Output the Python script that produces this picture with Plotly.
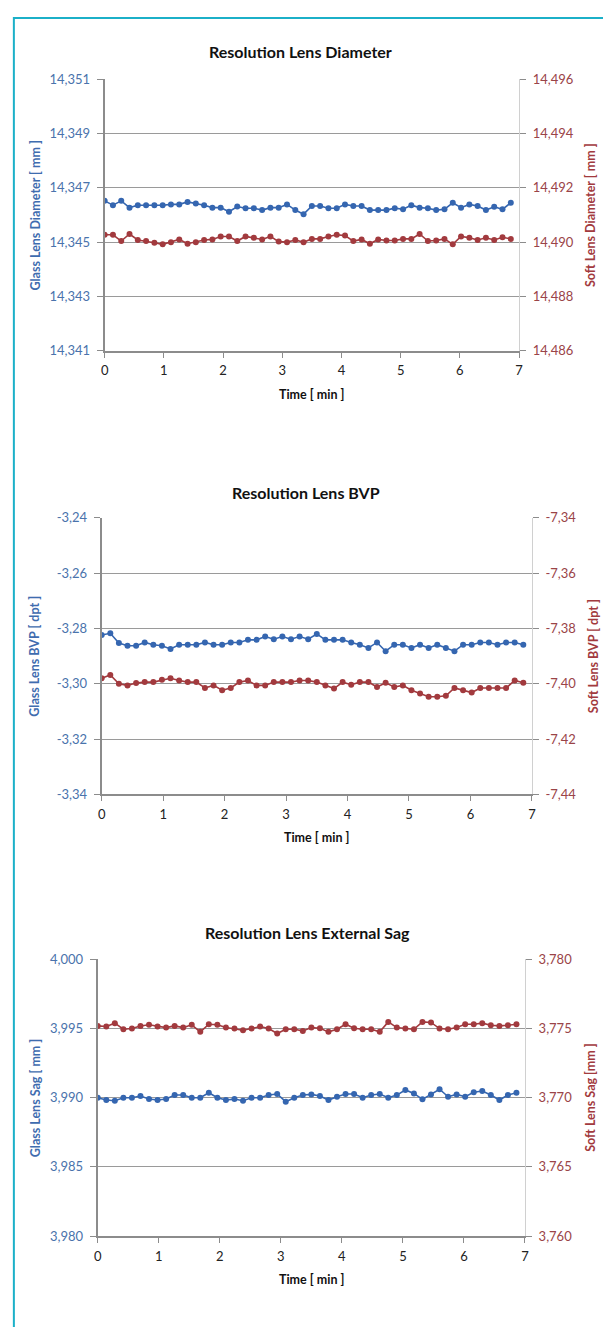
import plotly.graph_objects as go

W, H = 603, 1327

# ---------------- data ----------------
TIME_MIN = [0.00, 0.14, 0.28, 0.42, 0.56, 0.70, 0.84, 0.98, 1.12, 1.26,
            1.40, 1.54, 1.68, 1.82, 1.96, 2.10, 2.24, 2.38, 2.52, 2.66,
            2.80, 2.94, 3.08, 3.22, 3.36, 3.50, 3.64, 3.78, 3.92, 4.06,
            4.20, 4.34, 4.48, 4.62, 4.76, 4.90, 5.04, 5.18, 5.32, 5.46,
            5.60, 5.74, 5.88, 6.02, 6.16, 6.30, 6.44, 6.58, 6.72, 6.86]

DIAM_GLASS = [14.34652, 14.34636, 14.34652, 14.34627, 14.34636, 14.34636, 14.34636, 14.34636, 14.34639, 14.34639,
              14.34648, 14.34642, 14.34636, 14.34627, 14.34627, 14.34612, 14.34631, 14.34625, 14.34625, 14.34618,
              14.34627, 14.34627, 14.34639, 14.34618, 14.34603, 14.34633, 14.34633, 14.34625, 14.34625, 14.34639,
              14.34633, 14.34633, 14.34618, 14.34618, 14.34618, 14.34625, 14.34621, 14.34636, 14.34627, 14.34625,
              14.34618, 14.34621, 14.34645, 14.34627, 14.34639, 14.34633, 14.34618, 14.34630, 14.34621, 14.34645]
DIAM_SOFT = [14.49027, 14.49027, 14.49004, 14.49030, 14.49008, 14.49004, 14.48998, 14.48992, 14.49000, 14.49010,
             14.48994, 14.49000, 14.49008, 14.49010, 14.49021, 14.49021, 14.49004, 14.49021, 14.49016, 14.49010,
             14.49021, 14.49002, 14.49000, 14.49008, 14.49000, 14.49012, 14.49012, 14.49021, 14.49027, 14.49024,
             14.49004, 14.49010, 14.48994, 14.49010, 14.49006, 14.49006, 14.49012, 14.49012, 14.49030, 14.49004,
             14.49006, 14.49012, 14.48992, 14.49021, 14.49016, 14.49008, 14.49016, 14.49008, 14.49018, 14.49012]

BVP_GLASS = [-3.28235, -3.28176, -3.28529, -3.28624, -3.28624, -3.28506, -3.28588, -3.28624, -3.28741, -3.28588,
             -3.28588, -3.28588, -3.28506, -3.28588, -3.28588, -3.28506, -3.28506, -3.28412, -3.28412, -3.28294,
             -3.28388, -3.28294, -3.28388, -3.28294, -3.28388, -3.28200, -3.28412, -3.28412, -3.28412, -3.28506,
             -3.28588, -3.28706, -3.28506, -3.28824, -3.28588, -3.28588, -3.28706, -3.28588, -3.28706, -3.28588,
             -3.28706, -3.28824, -3.28588, -3.28588, -3.28506, -3.28506, -3.28588, -3.28506, -3.28506, -3.28588]
BVP_SOFT = [-7.39800, -7.39682, -7.40000, -7.40059, -7.39976, -7.39941, -7.39941, -7.39859, -7.39800, -7.39882,
            -7.39941, -7.39941, -7.40153, -7.40059, -7.40235, -7.40153, -7.39941, -7.39882, -7.40059, -7.40059,
            -7.39941, -7.39941, -7.39941, -7.39882, -7.39882, -7.39941, -7.40059, -7.40176, -7.39941, -7.40035,
            -7.39941, -7.39941, -7.40118, -7.39965, -7.40118, -7.40059, -7.40235, -7.40353, -7.40471, -7.40471,
            -7.40435, -7.40153, -7.40235, -7.40318, -7.40153, -7.40153, -7.40153, -7.40153, -7.39882, -7.39965]

SAG_GLASS = [3.99000, 3.98983, 3.98978, 3.99000, 3.99000, 3.99012, 3.98990, 3.98983, 3.98990, 3.99019,
             3.99019, 3.99000, 3.99000, 3.99036, 3.99000, 3.98983, 3.98990, 3.98978, 3.99000, 3.99000,
             3.99019, 3.99027, 3.98971, 3.99000, 3.99019, 3.99024, 3.99012, 3.98983, 3.99007, 3.99027,
             3.99027, 3.99000, 3.99019, 3.99027, 3.99000, 3.99019, 3.99056, 3.99031, 3.98988, 3.99024,
             3.99061, 3.99007, 3.99024, 3.99007, 3.99039, 3.99048, 3.99019, 3.98983, 3.99019, 3.99036]
SAG_SOFT = [3.77519, 3.77515, 3.77539, 3.77495, 3.77500, 3.77519, 3.77527, 3.77515, 3.77507, 3.77519,
            3.77507, 3.77527, 3.77476, 3.77531, 3.77527, 3.77507, 3.77500, 3.77488, 3.77500, 3.77515,
            3.77500, 3.77464, 3.77495, 3.77495, 3.77483, 3.77507, 3.77502, 3.77476, 3.77495, 3.77531,
            3.77502, 3.77495, 3.77495, 3.77476, 3.77548, 3.77507, 3.77500, 3.77495, 3.77548, 3.77544,
            3.77500, 3.77495, 3.77507, 3.77531, 3.77531, 3.77539, 3.77524, 3.77519, 3.77524, 3.77531]

TITLES = ["Resolution Lens Diameter", "Resolution Lens BVP", "Resolution Lens External Sag"]
LEFT_TITLES = ["Glass Lens Diameter [ mm ]", "Glass Lens BVP [ dpt ]", "Glass Lens Sag [ mm ]"]
RIGHT_TITLES = ["Soft Lens Diameter [ mm ]", "Soft Lens BVP [ dpt ]", "Soft Lens Sag [mm ]"]
X_TITLE = "Time [ min ]"

X_TICKS = [0, 1, 2, 3, 4, 5, 6, 7]
X_TICK_TEXT = ["0", "1", "2", "3", "4", "5", "6", "7"]

DIAM_L_TICKS = [14.341, 14.343, 14.345, 14.347, 14.349, 14.351]
DIAM_L_TEXT = ["14,341", "14,343", "14,345", "14,347", "14,349", "14,351"]
DIAM_R_TICKS = [14.486, 14.488, 14.490, 14.492, 14.494, 14.496]
DIAM_R_TEXT = ["14,486", "14,488", "14,490", "14,492", "14,494", "14,496"]
BVP_L_TICKS = [-3.34, -3.32, -3.30, -3.28, -3.26, -3.24]
BVP_L_TEXT = ["-3,34", "-3,32", "-3,30", "-3,28", "-3,26", "-3,24"]
BVP_R_TICKS = [-7.44, -7.42, -7.40, -7.38, -7.36, -7.34]
BVP_R_TEXT = ["-7,44", "-7,42", "-7,40", "-7,38", "-7,36", "-7,34"]
SAG_L_TICKS = [3.980, 3.985, 3.990, 3.995, 4.000]
SAG_L_TEXT = ["3,980", "3,985", "3,990", "3,995", "4,000"]
SAG_R_TICKS = [3.760, 3.765, 3.770, 3.775, 3.780]
SAG_R_TEXT = ["3,760", "3,765", "3,770", "3,775", "3,780"]

LEFT_TICKS = [(DIAM_L_TICKS, DIAM_L_TEXT), (BVP_L_TICKS, BVP_L_TEXT), (SAG_L_TICKS, SAG_L_TEXT)]
RIGHT_TICKS = [(DIAM_R_TICKS, DIAM_R_TEXT), (BVP_R_TICKS, BVP_R_TEXT), (SAG_R_TICKS, SAG_R_TEXT)]
GLASS = [DIAM_GLASS, BVP_GLASS, SAG_GLASS]
SOFT = [DIAM_SOFT, BVP_SOFT, SAG_SOFT]

# ---------------- layout geometry (pixels) ----------------
PLOTS = [  # x0, x1, ytop, ybottom
    (102, 522, 72, 347),
    (99, 535, 516, 796),
    (95, 528, 963, 1243),
]
TITLE_POS = [(300, 44), (306, 490), (308, 936)]
LEFT_TITLE_X = [32, 30, 32]
RIGHT_TITLE_X = [595, 597, 595]

BLUE = "#3566B0"
RED = "#A23A3E"
BLUE_TXT = "#4A73AC"
RED_TXT = "#9A4448"
AXIS = "#8C8C8C"
GRID = "#9A9A9A"
FONT = "Lato"


def px(x):
    return x / W


def py(y):
    return 1 - y / H


fig = go.Figure()
layout = dict(
    width=W, height=H, margin=dict(l=0, r=0, t=0, b=0),
    paper_bgcolor="white", plot_bgcolor="white", showlegend=False,
    font=dict(family=FONT, size=13, color="#222"),
)
annotations = []

for i in range(3):
    n = i + 1
    xa = "x" if n == 1 else f"x{n}"
    yl_idx = 2 * i + 1
    yr_idx = 2 * i + 2
    yl = "y" if yl_idx == 1 else f"y{yl_idx}"
    yr = f"y{yr_idx}"
    x0, x1, yt, yb = PLOTS[i]

    fig.add_trace(go.Scatter(
        x=TIME_MIN, y=GLASS[i], xaxis=xa, yaxis=yl, mode="lines+markers",
        line=dict(color=BLUE, width=1.6), marker=dict(color=BLUE, size=6),
        hoverinfo="skip"))
    fig.add_trace(go.Scatter(
        x=TIME_MIN, y=SOFT[i], xaxis=xa, yaxis=yr, mode="lines+markers",
        line=dict(color=RED, width=1.6), marker=dict(color=RED, size=6),
        hoverinfo="skip"))

    xkey = "xaxis" if n == 1 else f"xaxis{n}"
    ylkey = "yaxis" if yl_idx == 1 else f"yaxis{yl_idx}"
    yrkey = f"yaxis{yr_idx}"

    layout[xkey] = dict(
        domain=[px(x0), px(x1)], anchor=yl, range=[0, 7],
        tickmode="array", tickvals=X_TICKS, ticktext=X_TICK_TEXT,
        showgrid=False, zeroline=False, showline=True, linecolor=AXIS, linewidth=2,
        ticks="outside", ticklen=5, tickcolor=AXIS, tickwidth=1, ticklabelstandoff=2,
        tickfont=dict(family=FONT, size=13, color="#222"),
    )
    lt, ltxt = LEFT_TICKS[i]
    layout[ylkey] = dict(
        domain=[py(yb), py(yt)], anchor=xa, range=[lt[0], lt[-1]],
        tickmode="array", tickvals=lt, ticktext=ltxt,
        showgrid=True, gridcolor=GRID, gridwidth=1,
        zeroline=False, showline=True, linecolor=AXIS, linewidth=2,
        ticks="outside", ticklen=6, tickcolor=AXIS, tickwidth=1, ticklabelstandoff=4,
        tickfont=dict(family=FONT, size=13, color=BLUE_TXT),
    )
    rt, rtxt = RIGHT_TICKS[i]
    layout[yrkey] = dict(
        overlaying=yl, side="right", anchor=xa, range=[rt[0], rt[-1]],
        tickmode="array", tickvals=rt, ticktext=rtxt,
        showgrid=False, zeroline=False, showline=True,
        linecolor="#D0D0D0", linewidth=1,
        ticks="outside", ticklen=6, tickcolor=AXIS, tickwidth=1, ticklabelstandoff=4,
        tickfont=dict(family=FONT, size=13, color=RED_TXT),
    )

    tx, ty = TITLE_POS[i]
    annotations.append(dict(
        text=f"<b>{TITLES[i]}</b>", x=px(tx), y=py(ty), xref="paper", yref="paper",
        xanchor="center", yanchor="middle", showarrow=False,
        font=dict(family=FONT, size=16, color="#111")))
    annotations.append(dict(
        text=f"<b>{X_TITLE}</b>", x=px((x0 + x1) / 2), y=py(yb + 44), xref="paper", yref="paper",
        xanchor="center", yanchor="middle", showarrow=False,
        font=dict(family=FONT, size=12.5, color="#111")))
    annotations.append(dict(
        text=f"<b>{LEFT_TITLES[i]}</b>", x=px(LEFT_TITLE_X[i]), y=py((yt + yb) / 2),
        xref="paper", yref="paper", xanchor="center", yanchor="middle", textangle=-90,
        showarrow=False, font=dict(family=FONT, size=12.5, color="#3F6CAF")))
    annotations.append(dict(
        text=f"<b>{RIGHT_TITLES[i]}</b>", x=px(RIGHT_TITLE_X[i]), y=py((yt + yb) / 2),
        xref="paper", yref="paper", xanchor="center", yanchor="middle", textangle=-90,
        showarrow=False, font=dict(family=FONT, size=12.5, color="#A23A3E")))

layout["annotations"] = annotations
layout["shapes"] = [dict(
    type="rect", xref="paper", yref="paper",
    x0=px(10), x1=1.2, y0=-0.2, y1=py(10),
    line=dict(color="#1BB0C8", width=2), fillcolor="rgba(0,0,0,0)", layer="above")]

fig.update_layout(**layout)
fig.write_html("out.html")
